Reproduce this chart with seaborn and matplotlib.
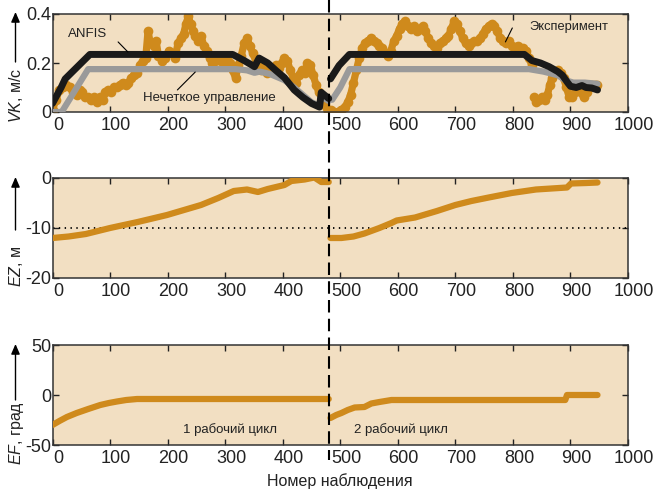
import numpy as np
import pandas as pd
import matplotlib
matplotlib.use("Agg")
import matplotlib.pyplot as plt
import matplotlib.transforms as mtransforms
from matplotlib.lines import Line2D
import seaborn as sns

# ---------------- data ----------------
NAN = float("nan")
CYCLE_SPLIT = 481

# VK experiment (orange)
vk_exp_x1 = [0, 6, 12, 18, 24, 30, 36, 42, 47, 52, 57, 62, 67, 72, 77, 82, 87, 92, 97, 102,
             107, 112, 117, 122, 127, 132, 137, 142, 147, 152, 157, 162, 166, 170, 176, 180,
             184, 190, 196, 202, 208, 213, 218, 223, 228, 232, 236, 240, 244, 248, 253, 258,
             263, 268, 273, 278, 283, 288, 293, 298, 303, 308, 313, 318, 323, 328, 333, 338,
             343, 348, 353, 358, 363, 368, 373, 378, 383, 388, 393, 398, 403, 408, 413, 418,
             423, 428, 433, 438, 443, 448, 453, 458, 463, 468, 473, 478]
vk_exp_y1 = [0.01, 0.05, 0.09, 0.10, 0.11, 0.10, 0.08, 0.07, 0.09, 0.08, 0.06, 0.06, 0.05, 0.06,
             0.04, 0.06, 0.05, 0.08, 0.09, 0.08, 0.10, 0.10, 0.11, 0.12, 0.11, 0.12, 0.14, 0.15,
             0.16, 0.19, 0.21, 0.22, 0.33, 0.28, 0.27, 0.29, 0.23, 0.21, 0.22, 0.25, 0.24, 0.22,
             0.28, 0.30, 0.32, 0.36, 0.39, 0.36, 0.33, 0.31, 0.29, 0.31, 0.27, 0.25, 0.22, 0.20,
             0.21, 0.23, 0.21, 0.19, 0.22, 0.20, 0.17, 0.14, 0.19, 0.23, 0.28, 0.30, 0.27, 0.24,
             0.21, 0.19, 0.17, 0.18, 0.16, 0.18, 0.17, 0.19, 0.18, 0.20, 0.22, 0.21, 0.17, 0.14,
             0.12, 0.15, 0.17, 0.16, 0.20, 0.19, 0.15, 0.11, 0.08, 0.06, 0.03, 0.0]
vk_exp_x2 = [484, 490, 496, 502, 508, 513, 518, 523, 528, 533, 538, 543, 548, 553, 558, 563,
             568, 573, 578, 583, 588, 593, 598, 603, 608, 613, 618, 623, 628, 633, 638, 643,
             648, 653, 658, 663, 668, 673, 678, 683, 688, 693, 698, 703, 708, 713, 718, 723,
             728, 733, 738, 743, 748, 753, 758, 763, 768, 773, 778, 783, 788, 793, 798, 803,
             808, 813, 818, 823, 828, 833, NAN, 837, 841, 846, 851, 856, 860, 864, 868, 873,
             878, 883, 888, 893, 898, 903, 908, 913, 918, 923, 928, 933, 938, 943, 947]
vk_exp_y2 = [0.01, 0.0, 0.0, 0.01, 0.02, 0.04, 0.07, 0.12, 0.17, 0.22, 0.26, 0.28, 0.29, 0.30,
             0.29, 0.28, 0.27, 0.26, 0.24, 0.23, 0.25, 0.29, 0.31, 0.34, 0.36, 0.37, 0.35, 0.34,
             0.35, 0.33, 0.34, 0.35, 0.33, 0.30, 0.28, 0.27, 0.26, 0.28, 0.29, 0.30, 0.31, 0.34,
             0.37, 0.36, 0.33, 0.30, 0.28, 0.27, 0.28, 0.29, 0.29, 0.30, 0.32, 0.34, 0.35, 0.36,
             0.35, 0.33, 0.30, 0.29, 0.28, 0.29, 0.27, 0.26, 0.27, 0.26, 0.26, 0.25, 0.22, 0.19,
             NAN, 0.06, 0.04, 0.05, 0.06, 0.05, 0.07, 0.11, 0.14, 0.16, 0.17, 0.16, 0.14, 0.10,
             0.06, 0.06, 0.08, 0.10, 0.08, 0.06, 0.08, 0.10, 0.11, 0.11, 0.11]

# VK ANFIS (black)
vk_anfis_x1 = [0, 8, 15, 22, 65, 313, 333, 351, 359, 374, 388, 403, 420, 435, 450, 464, 467, 480]
vk_anfis_y1 = [0.035, 0.07, 0.10, 0.135, 0.235, 0.235, 0.21, 0.185, 0.22, 0.20, 0.17, 0.14,
               0.09, 0.06, 0.035, 0.02, 0.08, 0.055]
vk_anfis_x2 = [483, 498, 516, 820, 833, 848, 863, 878, 886, 895, 900, 910, 920, 927, 937, 947]
vk_anfis_y2 = [0.135, 0.19, 0.235, 0.235, 0.21, 0.20, 0.185, 0.165, 0.15, 0.12, 0.105, 0.10,
               0.108, 0.10, 0.098, 0.09]

# VK fuzzy control (gray)
vk_fuzzy_x1 = [0, 16, 62, 318, 338, 351, 360, 378, 403, 420, 435, 450, 464, 467, 480]
vk_fuzzy_y1 = [0.0, 0.0, 0.175, 0.175, 0.17, 0.16, 0.165, 0.155, 0.13, 0.10, 0.07, 0.04,
               0.025, 0.065, 0.045]
vk_fuzzy_x2 = [486, 500, 516, 828, 853, 878, 891, 905, 925, 947]
vk_fuzzy_y2 = [0.05, 0.10, 0.175, 0.175, 0.165, 0.15, 0.13, 0.12, 0.12, 0.115]

# EZ
ez_x1 = [0, 28, 58, 100, 148, 199, 258, 288, 315, 338, 357, 374, 403, 415, 438, 455, 467, 480]
ez_y1 = [-12, -11.7, -11.2, -10, -8.8, -7.4, -5.4, -4.0, -2.6, -2.3, -2.8, -2.2, -1.4, -0.6,
         -0.3, 0.1, -0.8, -0.8]
ez_x2 = [483, 502, 523, 542, 568, 589, 598, 630, 668, 700, 728, 758, 798, 840, 894, 901, 928, 947]
ez_y2 = [-12, -12, -11.7, -11.1, -10.0, -9.0, -8.5, -7.9, -6.6, -5.4, -4.6, -3.9, -3.0, -2.3,
         -1.9, -1.1, -1.0, -0.9]

# EF
ef_x1 = [0, 12, 25, 42, 62, 83, 98, 112, 128, 147, 480]
ef_y1 = [-30, -26, -22, -18, -14, -10, -8, -6.5, -5, -4, -4]
ef_x2 = [483, 493, 502, 513, 525, 542, 554, 568, 589, 891, 894, 947]
ef_y2 = [-23, -20, -18, -15, -12.5, -12, -8.5, -7, -5, -5, 0, 0]

x_ticks = [0, 100, 200, 300, 400, 500, 600, 700, 800, 900, 1000]
vk_ticks = [0, 0.2, 0.4]
vk_ticklabels = ["0", "0.2", "0.4"]
ez_ticks = [-20, -10, 0]
ef_ticks = [-50, 0, 50]

# ---------------- style ----------------
BG = "#F2DFC2"
ORANGE = "#CF8A1C"
GRAY = "#9A9A9A"
BLACK = "#1A1A1A"

sns.set_style("ticks")
plt.rcParams["font.family"] = ["Liberation Sans", "DejaVu Sans"]
plt.rcParams["mathtext.fontset"] = "custom"
plt.rcParams["mathtext.it"] = "Liberation Sans:italic"
plt.rcParams["mathtext.rm"] = "Liberation Sans"
plt.rcParams["lines.scale_dashes"] = False


def frame(xa, ya, xb, yb):
    x = list(xa) + [NAN] + list(xb)
    y = list(ya) + [NAN] + list(yb)
    df = pd.DataFrame({"x": x, "y": y})
    df["seg"] = df["x"].isna().cumsum() + df["y"].isna().cumsum()
    return df.dropna()


fig = plt.figure(figsize=(6.53, 4.94), dpi=100)
W, H = 653, 494


def px_axes(x0, y0, x1, y1):
    return fig.add_axes([x0 / W, 1 - y1 / H, (x1 - x0) / W, (y1 - y0) / H])


ax1 = px_axes(52.5, 14, 628, 112)
ax2 = px_axes(52.5, 178, 628, 278)
ax3 = px_axes(52.5, 345, 628, 445)


def draw(ax, df, color, lw, ms, z):
    sns.lineplot(data=df, x="x", y="y", units="seg", estimator=None, sort=False,
                 color=color, lw=lw, marker="o", ms=ms, mew=0, ax=ax, legend=False,
                 zorder=z)
    for ln in ax.lines[-df["seg"].nunique():]:
        ln.set_solid_capstyle("round")
        ln.set_solid_joinstyle("round")


draw(ax1, frame(vk_exp_x1, vk_exp_y1, vk_exp_x2, vk_exp_y2), ORANGE, 5.2, 7, 2)
draw(ax1, frame(vk_fuzzy_x1, vk_fuzzy_y1, vk_fuzzy_x2, vk_fuzzy_y2), GRAY, 4.5, 0, 3)
draw(ax1, frame(vk_anfis_x1, vk_anfis_y1, vk_anfis_x2, vk_anfis_y2), BLACK, 5, 0, 4)
draw(ax2, frame(ez_x1, ez_y1, ez_x2, ez_y2), ORANGE, 4.5, 0, 3)
draw(ax3, frame(ef_x1, ef_y1, ef_x2, ef_y2), ORANGE, 4.5, 0, 3)

ax2.axhline(-10, color="black", lw=1.3, ls=(0, (1, 3.2)), zorder=2)

limits = [(ax1, (0, 0.4), vk_ticks, vk_ticklabels),
          (ax2, (-20, 0), ez_ticks, [str(t) for t in ez_ticks]),
          (ax3, (-50, 50), ef_ticks, [str(t) for t in ef_ticks])]
shift = mtransforms.ScaledTranslation(6 / 100, 0, fig.dpi_scale_trans)
for ax, yl, yt, ytl in limits:
    ax.set_facecolor(BG)
    ax.set_xlim(0, 1000)
    ax.set_ylim(*yl)
    ax.set_xticks(x_ticks)
    ax.set_xticklabels([str(t) for t in x_ticks])
    ax.set_yticks(yt)
    ax.set_yticklabels(ytl)
    ax.set_xlabel("")
    ax.set_ylabel("")
    ax.tick_params(direction="in", top=True, right=True, length=4, width=1,
                   labelsize=13, pad=3.5, colors="#222222", labelcolor="#222222")
    ax.tick_params(axis="y", pad=1)
    for s in ax.spines.values():
        s.set_visible(True)
        s.set_color("#333333")
        s.set_linewidth(1.1)
    for lab in ax.get_xticklabels():
        lab.set_transform(lab.get_transform() + shift)

# annotations
ax1.text(61, 0.32, "ANFIS", ha="center", va="center", fontsize=9.5, color="#222222")
ax1.plot([114, 131], [0.286, 0.245], color="black", lw=0.8, zorder=5)
ax1.text(272, 0.057, "Нечеткое управление", ha="center", va="center", fontsize=9.5,
         color="#222222", zorder=6)
ax1.plot([217, 248], [0.09, 0.163], color="black", lw=0.8, zorder=5)
ax1.text(898, 0.347, "Эксперимент", ha="center", va="center", fontsize=9.3, color="#222222")
ax1.plot([799, 787], [0.343, 0.286], color="black", lw=0.8, zorder=5)
ax3.text(309, -35, "1 рабочий цикл", ha="center", va="center", fontsize=9.5, color="#222222")
ax3.text(606, -35, "2 рабочий цикл", ha="center", va="center", fontsize=9.5, color="#222222")

fig.text(340 / W, 1 - 481 / H, "Номер наблюдения", ha="center", va="center", fontsize=11.5,
         color="#222222")

# y labels with arrows
ylabels = [(r"$VK$, м/с", 95, 62, 12), (r"$EZ$, м", 266, 230, 177),
           (r"$EF$, град", 433, 400, 344)]
for txt, yc, a0, a1 in ylabels:
    fig.text(16 / W, 1 - yc / H, txt, rotation=90, ha="center", va="center", fontsize=11.5,
             color="#222222")
    fig.add_artist(matplotlib.patches.FancyArrowPatch(
        (15.5 / W, 1 - a0 / H), (15.5 / W, 1 - a1 / H), transform=fig.transFigure,
        arrowstyle="-|>,head_length=6,head_width=2.6", color="black", lw=1.0,
        mutation_scale=1, shrinkA=0, shrinkB=0))

# vertical dashed separator between the two cycles
fig.canvas.draw()
xfig = fig.transFigure.inverted().transform(ax1.transData.transform((CYCLE_SPLIT, 0)))[0]
fig.add_artist(Line2D([xfig, xfig], [1 - 0 / H, 1 - 460 / H], transform=fig.transFigure,
                      color="black", lw=1.5, dashes=(9, 4.5), zorder=10))

fig.savefig("out.png", dpi=100, facecolor="white")
